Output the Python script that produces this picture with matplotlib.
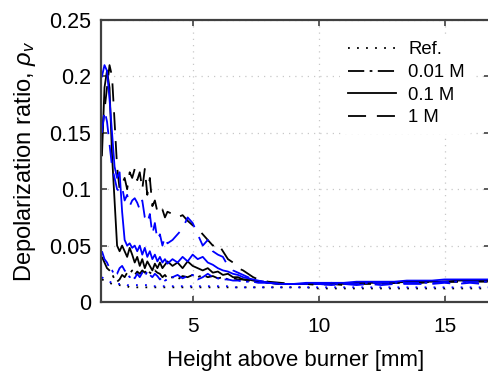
import numpy as np
import matplotlib as mpl
import matplotlib.pyplot as plt
from matplotlib.lines import Line2D

mpl.rcParams['font.family'] = ['Liberation Sans', 'DejaVu Sans']
mpl.rcParams['font.size'] = 15
mpl.rcParams['mathtext.fontset'] = 'custom'
mpl.rcParams['mathtext.it'] = 'Liberation Sans:italic'
mpl.rcParams['mathtext.rm'] = 'Liberation Sans'

# Height above burner [mm], shared sampling grid
hab = [1.4, 1.5, 1.6, 1.7, 1.8, 1.9, 2.0, 2.1, 2.2, 2.3, 2.4, 2.5, 2.6, 2.7,
       2.8, 2.9, 3.0, 3.1, 3.2, 3.3, 3.4, 3.5, 3.6, 3.7, 3.8, 3.9, 4.0,
       4.2, 4.4, 4.6, 4.8, 5.0, 5.2, 5.4, 5.6, 5.8, 6.0, 6.2, 6.4, 6.6, 6.8,
       7.0, 7.2, 7.4, 7.6, 7.8, 8.0,
       8.5, 9.0, 9.5, 10.0, 10.5, 11.0, 11.5, 12.0, 12.5, 13.0, 13.5, 14.0,
       14.5, 15.0, 15.5, 16.0, 16.5, 17.0]

# Ref. (dotted)
ref_k = [0.020, 0.019, 0.018, 0.017, 0.016, 0.016, 0.015, 0.015, 0.014, 0.014,
         0.014, 0.013, 0.013, 0.013, 0.013, 0.013, 0.013, 0.013, 0.013, 0.013,
         0.013, 0.013, 0.013, 0.013, 0.013, 0.013, 0.013,
         0.013, 0.013, 0.013, 0.013, 0.013, 0.013, 0.013, 0.013, 0.013, 0.013,
         0.013, 0.013, 0.013, 0.013, 0.013, 0.013, 0.013, 0.013, 0.013, 0.013,
         0.013, 0.013, 0.013, 0.012, 0.012, 0.012, 0.012, 0.012, 0.012, 0.012,
         0.012, 0.012, 0.012, 0.012, 0.012, 0.012, 0.012, 0.012]
ref_b = [0.022, 0.020, 0.019, 0.018, 0.017, 0.017, 0.016, 0.016, 0.016, 0.016,
         0.015, 0.015, 0.015, 0.015, 0.015, 0.015, 0.015, 0.015, 0.015, 0.014,
         0.014, 0.014, 0.014, 0.014, 0.014, 0.014, 0.014,
         0.014, 0.014, 0.014, 0.014, 0.014, 0.014, 0.014, 0.014, 0.014, 0.014,
         0.014, 0.014, 0.013, 0.013, 0.013, 0.013, 0.013, 0.013, 0.013, 0.013,
         0.013, 0.013, 0.013, 0.013, 0.013, 0.013, 0.013, 0.013, 0.013, 0.013,
         0.013, 0.013, 0.013, 0.013, 0.013, 0.013, 0.013, 0.013]

# 0.01 M (dash-dot)
c001_k = [0.040, 0.035, 0.030, 0.028, 0.025, 0.020, 0.018, 0.020, 0.024, 0.022,
          0.026, 0.025, 0.028, 0.024, 0.027, 0.025, 0.028, 0.026, 0.029, 0.026,
          0.025, 0.028, 0.026, 0.025, 0.022, 0.024, 0.021,
          0.022, 0.020, 0.023, 0.022, 0.024, 0.022, 0.024, 0.022, 0.023, 0.021,
          0.022, 0.020, 0.021, 0.020, 0.020, 0.019, 0.019, 0.018, 0.018, 0.017,
          0.016, 0.016, 0.016, 0.016, 0.016, 0.016, 0.017, 0.017, 0.017, 0.017,
          0.017, 0.017, 0.018, 0.018, 0.018, 0.018, 0.018, 0.018]
c001_b = [0.045, 0.038, 0.035, 0.030, 0.028, 0.024, 0.025, 0.030, 0.032, 0.028,
          0.025, 0.022, 0.024, 0.021, 0.025, 0.022, 0.026, 0.023, 0.027, 0.024,
          0.022, 0.025, 0.023, 0.020, 0.022, 0.019, 0.020,
          0.022, 0.024, 0.021, 0.023, 0.024, 0.020, 0.022, 0.025, 0.022, 0.021,
          0.020, 0.020, 0.019, 0.019, 0.018, 0.018, 0.018, 0.017, 0.017, 0.017,
          0.016, 0.016, 0.016, 0.016, 0.016, 0.016, 0.016, 0.017, 0.017, 0.017,
          0.017, 0.017, 0.017, 0.018, 0.018, 0.018, 0.018, 0.018]

# 0.1 M (solid)
c01_k = [0.130, 0.190, 0.205, 0.190, 0.130, 0.090, 0.050, 0.045, 0.050, 0.045,
         0.040, 0.048, 0.042, 0.035, 0.040, 0.032, 0.038, 0.030, 0.036, 0.032,
         0.028, 0.034, 0.030, 0.035, 0.030, 0.033, 0.036,
         0.032, 0.035, 0.030, 0.036, 0.032, 0.030, 0.028, 0.030, 0.026, 0.027,
         0.024, 0.025, 0.022, 0.022, 0.020, 0.020, 0.019, 0.018, 0.018, 0.017,
         0.016, 0.016, 0.016, 0.016, 0.017, 0.016, 0.017, 0.017, 0.017, 0.017,
         0.018, 0.018, 0.018, 0.018, 0.019, 0.019, 0.019, 0.019]
c01_b = [0.200, 0.210, 0.205, 0.180, 0.150, 0.120, 0.110, 0.115, 0.080, 0.055,
         0.050, 0.052, 0.048, 0.050, 0.045, 0.050, 0.042, 0.048, 0.040, 0.045,
         0.038, 0.042, 0.036, 0.040, 0.035, 0.038, 0.034,
         0.038, 0.035, 0.040, 0.036, 0.042, 0.038, 0.040, 0.035, 0.033, 0.030,
         0.028, 0.027, 0.025, 0.024, 0.022, 0.021, 0.020, 0.019, 0.018, 0.017,
         0.016, 0.016, 0.017, 0.017, 0.017, 0.017, 0.018, 0.018, 0.018, 0.018,
         0.019, 0.019, 0.019, 0.020, 0.020, 0.020, 0.020, 0.020]

# 1 M (dashed)
c1_k = [0.150, 0.170, 0.190, 0.210, 0.200, 0.160, 0.120, 0.100, 0.105, 0.110,
        0.100, 0.115, 0.110, 0.118, 0.108, 0.115, 0.100, 0.118, 0.095, 0.110,
        0.085, 0.090, 0.080, 0.078, 0.082, 0.075, 0.080,
        0.078, 0.075, 0.077, 0.072, 0.068, 0.065, 0.060, 0.055, 0.050, 0.052,
        0.045, 0.038, 0.035, 0.030, 0.028, 0.025, 0.022, 0.020, 0.019, 0.018,
        0.017, 0.016, 0.016, 0.015, 0.016, 0.015, 0.016, 0.016, 0.016, 0.017,
        0.017, 0.017, 0.018, 0.018, 0.018, 0.018, 0.019, 0.019]
c1_b = [0.150, 0.170, 0.160, 0.140, 0.120, 0.110, 0.100, 0.098, 0.102, 0.090,
        0.095, 0.085, 0.090, 0.092, 0.088, 0.082, 0.090, 0.075, 0.070, 0.078,
        0.060, 0.070, 0.055, 0.060, 0.050, 0.058, 0.052,
        0.055, 0.060, 0.065, 0.075, 0.070, 0.060, 0.050, 0.055, 0.045, 0.042,
        0.040, 0.032, 0.028, 0.026, 0.024, 0.022, 0.020, 0.019, 0.018, 0.017,
        0.016, 0.016, 0.016, 0.016, 0.015, 0.016, 0.015, 0.016, 0.015, 0.016,
        0.016, 0.016, 0.016, 0.017, 0.016, 0.017, 0.016, 0.017]

styles = {"Ref.": (0, (1, 4)),
          "0.01 M": (0, (9, 3, 1.5, 3)),
          "0.1 M": "-",
          "1 M": (0, (10, 6))}
lw = 1.3
blue = "#0000ff"

fig = plt.figure(figsize=(4.89, 3.71), dpi=100)
ax = fig.add_axes([100.7/489, 69/371, (490 - 100.7)/489, 282/371])

# black first, blue drawn on top
for data, lab in [(ref_k, "Ref."), (c001_k, "0.01 M"), (c01_k, "0.1 M"), (c1_k, "1 M")]:
    ax.plot(hab, data, color="k", ls=styles[lab], lw=lw)
for data, lab in [(ref_b, "Ref."), (c001_b, "0.01 M"), (c01_b, "0.1 M"), (c1_b, "1 M")]:
    ax.plot(hab, data, color=blue, ls=styles[lab], lw=lw)

ax.set_xlim(1.35, 16.8)
ax.set_ylim(0, 0.25)
ax.set_xticks([5, 10, 15])
ax.set_yticks([0, 0.05, 0.1, 0.15, 0.2, 0.25])
ax.set_yticklabels(["0", "0.05", "0.1", "0.15", "0.2", "0.25"])

ax.grid(True, ls=(0, (1, 4)), color="#c8c8c8", lw=0.9)
for sp in ax.spines.values():
    sp.set_color("#404040")
    sp.set_linewidth(1.6)
ax.tick_params(direction="in", top=True, right=True, length=4, width=1.2,
               color="#404040", labelcolor="k")
ax.tick_params(axis="x", pad=11, labelsize=15)
ax.tick_params(axis="y", pad=7, labelsize=15.5)

ax.set_xlabel("Height above burner [mm]", fontsize=16, labelpad=10)
ax.set_ylabel(r"Depolarization ratio, $\rho_v$", fontsize=17, labelpad=8)

handles = [Line2D([], [], color="k", ls=styles[k], lw=lw) for k in styles]
leg = ax.legend(handles, list(styles.keys()), loc="upper left",
                bbox_to_anchor=(0.615, 0.95), fontsize=13.3, frameon=True,
                handlelength=2.6, handletextpad=0.7, labelspacing=0.3,
                borderaxespad=0.0, borderpad=0.4)
leg.get_frame().set_edgecolor("none")
leg.get_frame().set_facecolor("white")
leg.get_frame().set_alpha(1)

fig.savefig("out.png", dpi=100)
